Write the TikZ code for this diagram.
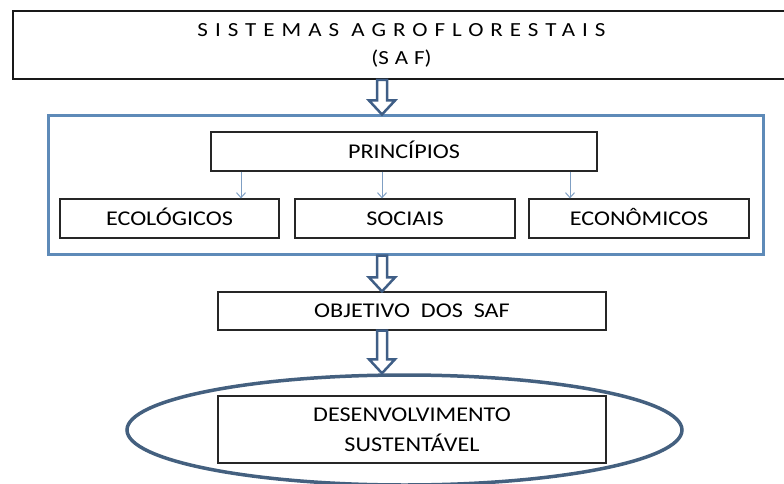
\documentclass[tikz,border=0pt]{standalone}
\usepackage{fontspec}
\setmainfont{Carlito}[FakeStretch=1.15]
\newfontfamily\spacedfont{Carlito}[FakeStretch=1.15,LetterSpace=35]
\usetikzlibrary{positioning,shapes,arrows,arrows.meta,calc}
\definecolor{frameblue}{HTML}{5E8AB8}
\definecolor{arrowblue}{HTML}{3F5E86}
\definecolor{thinblue}{HTML}{7F9FC3}
\definecolor{ovalblue}{HTML}{44607F}
\tikzstyle{box} = [draw=black!85, rectangle, line width=1.2pt, minimum height=39pt, text centered, font=\fontsize{21}{30}\selectfont, inner sep=0pt, text height=13.3pt, text depth=0pt]
\tikzstyle{line} = [draw=thinblue, line width=1pt, -{Straight Barb[length=5pt,width=9pt]}]
\tikzstyle{fat} = [draw=arrowblue, line width=2.5pt, fill=white, line join=miter]
\newcommand{\fatarrow}[2]{%
  \path[fat] let \p1=(#1), \p2=(#2) in
    (\x1-5pt,\y1) -- (\x1-5pt,\y2+14pt) -- (\x1-13pt,\y2+14pt) -- (\x1,\y2)
    -- (\x1+13pt,\y2+14pt) -- (\x1+5pt,\y2+14pt) -- (\x1+5pt,\y1) -- cycle;}

\begin{document}
\begin{tikzpicture}[x=1pt, y=-1pt]
    \useasboundingbox (0,0) rectangle (784,484);
    % Place nodes
    \node [draw=black!90, line width=1.6pt, minimum width=777pt, minimum height=68pt, align=center, font=\fontsize{20}{28}\selectfont] (saf) at (401.5,45) {{\spacedfont SISTEMAS AGROFLORESTAIS}\\(S\hspace{6pt}A\hspace{6pt}F)};
    \node [draw=frameblue, line width=3pt, minimum width=715pt, minimum height=138pt] (frame) at (405.5,185) {};
    \node [box, minimum width=386pt] (principios) at (404,151.5) {PRINCÍPIOS};
    \node [box, minimum width=219pt] (ecologicos) at (169.5,218.5) {ECOLÓGICOS};
    \node [box, minimum width=220pt] (sociais) at (405,218.5) {SOCIAIS};
    \node [box, minimum width=220pt] (economicos) at (639,218.5) {ECONÔMICOS};
    \node [box, minimum width=388pt, minimum height=38pt] (objetivo) at (412,311) {OBJETIVO\ \ DOS\ \ SAF};
    \node [ellipse, draw=ovalblue, line width=3.5pt, minimum width=555pt, minimum height=110pt] (sust) at (404.5,430) {};
    \node [box, minimum width=388pt, minimum height=67pt, align=center, text height=43.3pt] (desenv) at (412,429.5) {DESENVOLVIMENTO\\SUSTENTÁVEL};
    \coordinate (ax) at (382,0);
    % Draw edges
    \foreach \x/\n in {241/ecologicos,382/sociais,570/economicos}
        \path [line] (\x,0 |- principios.south) -- (\x,0 |- \n.north);
    \fatarrow{saf.south -| ax}{frame.north -| ax}
    \fatarrow{frame.south -| ax}{objetivo.north -| ax}
    \fatarrow{objetivo.south -| ax}{sust.north -| ax}
\end{tikzpicture}
\end{document}
